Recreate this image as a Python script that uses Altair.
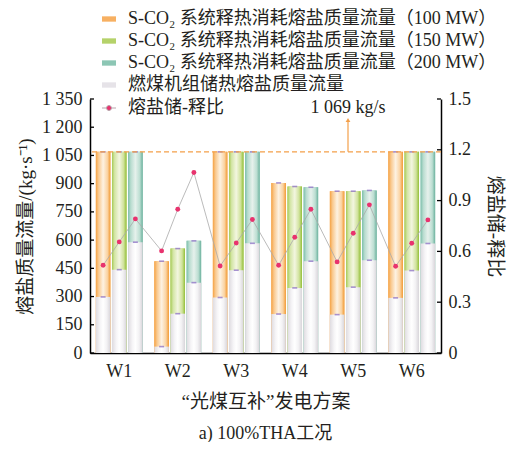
import altair as alt
import pandas as pd

FONT = "'Liberation Serif', 'Noto Sans CJK SC', serif"
TXT = "#231f20"

schemes = ["W1", "W2", "W3", "W4", "W5", "W6"]
caps = ["100 MW", "150 MW", "200 MW"]

# total molten-salt flow consumed by S-CO2 system (kg/s)
total_100 = [1069, 488, 1069, 904, 860, 1069]
total_150 = [1069, 555, 1069, 885, 860, 1069]
total_200 = [1069, 596, 1069, 881, 864, 1069]
# coal unit heat-storage molten-salt flow (kg/s)
coal_100 = [298, 34, 295, 207, 204, 293]
coal_150 = [443, 209, 440, 346, 350, 438]
coal_200 = [589, 374, 583, 488, 493, 582]
# storage / release ratio
ratio_100 = [0.518, 0.603, 0.514, 0.518, 0.538, 0.512]
ratio_150 = [0.656, 0.849, 0.650, 0.684, 0.707, 0.648]
ratio_200 = [0.792, 1.066, 0.788, 0.849, 0.875, 0.786]

left_ticks = [0, 150, 300, 450, 600, 750, 900, 1050, 1200, 1350]
right_ticks = [0, 0.3, 0.6, 0.9, 1.2, 1.5]
max_flow = 1069

L100 = "S-CO₂ 系统释热消耗熔盐质量流量（100 MW）"
L150 = "S-CO₂ 系统释热消耗熔盐质量流量（150 MW）"
L200 = "S-CO₂ 系统释热消耗熔盐质量流量（200 MW）"
LCOAL = "燃煤机组储热熔盐质量流量"
LRATIO = "熔盐储-释比"
series_labels = [L100, L150, L200, LCOAL]
series_colors = ["#f7b062", "#b5d26a", "#8cc6b4", "#e6e3e8"]

totals = [total_100, total_150, total_200]
coals = [coal_100, coal_150, coal_200]
ratios = [ratio_100, ratio_150, ratio_200]

rows = []
idx = 0
for i, w in enumerate(schemes):
    for j, c in enumerate(caps):
        rows.append({"W": w, "cap": c, "total": totals[j][i], "coal": coals[j][i],
                     "ratio": ratios[j][i], "idx": idx, "lab": LRATIO})
        idx += 1
df = pd.DataFrame(rows)

leg_rows = []
for j, c in enumerate(caps):
    for i, w in enumerate(schemes):
        leg_rows.append({"W": w, "cap": c, "series": series_labels[j], "value": totals[j][i]})
for j, c in enumerate(caps):
    for i, w in enumerate(schemes):
        leg_rows.append({"W": w, "cap": c, "series": LCOAL, "value": coals[j][i]})
leg_df = pd.DataFrame(leg_rows)

X = alt.X("W:N", scale=alt.Scale(domain=schemes, paddingInner=0.2, paddingOuter=0.1),
          axis=alt.Axis(title="“光煤互补”发电方案", labelAngle=0, ticks=False, labelPadding=9,
                        titlePadding=12, domainColor="black", domainWidth=1.5))
XO = alt.XOffset("cap:N", scale=alt.Scale(domain=caps, paddingInner=0.1, paddingOuter=0))
ysc = alt.Scale(domain=[0, 1350], nice=False, zero=True)
rsc = alt.Scale(domain=[0, 1.5], nice=False, zero=True)

left_axis = alt.Axis(title="熔盐质量流量/(kg·s⁻¹)", values=left_ticks, grid=False, ticks=False,
                     labelPadding=8, titlePadding=6, domainColor="black", domainWidth=1.5,
                     labelExpr="replace(format(datum.value, ','), ',', ' ')")
right_axis = alt.Axis(title=LRATIO, orient="right", values=right_ticks, grid=False, ticks=False,
                      labelPadding=7, titlePadding=14, domainColor="black", domainWidth=1.5,
                      labelExpr="datum.value == 0 ? '0' : format(datum.value, '.1f')")


def LY(field):
    return alt.Y(field, scale=ysc, axis=left_axis)


def RY(field):
    return alt.Y(field, scale=rsc, axis=right_axis)


def grad(stops):
    return alt.Gradient(gradient="linear", x1=0, x2=1, y1=0, y2=0,
                        stops=[alt.GradientStop(offset=o, color=c) for o, c in stops])


g_orange = grad([(0, "#f5a243"), (0.18, "#f9c88d"), (0.5, "#fdf2e2"), (0.8, "#fad3a2"), (1, "#f29a33")])
g_green = grad([(0, "#a6ca55"), (0.18, "#d3e5a5"), (0.5, "#f3f6e0"), (0.8, "#d0e29c"), (1, "#93bf38")])
g_teal = grad([(0, "#7dbfab"), (0.18, "#b8dccf"), (0.5, "#e6f1ec"), (0.8, "#bcded2"), (1, "#6cb29e")])
g_white = grad([(0, "#dedbe0"), (0.3, "#f6f5f7"), (0.5, "#ffffff"), (0.75, "#f3f2f4"), (1, "#d8d5da")])

legend_bars = alt.Chart(leg_df).mark_bar().encode(
    x=X, xOffset=XO,
    y=alt.Y("value:Q", scale=ysc, axis=left_axis, stack=None),
    color=alt.Color("series:N", scale=alt.Scale(domain=series_labels, range=series_colors),
                    legend=alt.Legend(title=None, orient="none", legendX=10, legendY=-89,
                                      symbolType="M-1,-0.38H1V0.38H-1Z", symbolSize=196,
                                      symbolStrokeWidth=0, labelFontSize=18, labelOffset=10,
                                      rowPadding=4, labelLimit=700, labelFont=FONT,
                                      labelColor=TXT, symbolOpacity=1)),
)

grad_layers = []
for c, g in zip(caps, [g_orange, g_green, g_teal]):
    grad_layers.append(
        alt.Chart(df).transform_filter(alt.datum.cap == c).mark_bar(color=g).encode(
            x=X, xOffset=XO, y=LY("total:Q"))
    )
coal_layer = alt.Chart(df).mark_bar(color=g_white).encode(
    x=X, xOffset=XO, y=LY("coal:Q"))

caps_layer = alt.Chart(df).transform_fold(["total", "coal"], as_=["k", "v"]).mark_tick(
    color="#8466c2", size=5, thickness=1.6).encode(
    x=X, xOffset=XO, y=LY("v:Q"))

dash_df = pd.DataFrame({"y": [max_flow]})
dash = alt.Chart(dash_df).mark_rule(color="#f4a04a", strokeDash=[5, 3], strokeWidth=1.2).encode(
    y=LY("y:Q"))

ann_df = pd.DataFrame({"y": [max_flow], "y2": [1238], "ty": [1301], "t": ["1 069 kg/s"]})
arrow = alt.Chart(ann_df).mark_rule(color="#f4a04a", strokeWidth=1.2).encode(
    x=alt.value(258), y=LY("y:Q"), y2="y2:Q")
head = alt.Chart(ann_df).mark_point(shape="triangle-up", filled=True, size=22, color="#f4a04a",
                                    opacity=1).encode(
    x=alt.value(258), y=LY("y2:Q"))
ann_text = alt.Chart(ann_df).mark_text(font=FONT, fontSize=18, color=TXT, baseline="middle").encode(
    x=alt.value(258), y=LY("ty:Q"), text="t:N")

lt_df = pd.DataFrame({"v": left_ticks})
left_tk = alt.Chart(lt_df).mark_rule(color="black", strokeWidth=1.3).encode(
    x=alt.value(0), x2=alt.value(4), y=LY("v:Q"))

left_group = alt.layer(legend_bars, *grad_layers, coal_layer, caps_layer, dash, arrow, head,
                       ann_text, left_tk)

line = alt.Chart(df).mark_line(color="#a9a9a9", strokeWidth=0.8).encode(
    x=X, xOffset=XO, y=RY("ratio:Q"), order="idx:Q")
pts = alt.Chart(df).mark_circle(size=24, opacity=1).encode(
    x=X, xOffset=XO, y=RY("ratio:Q"),
    color=alt.Color("lab:N", scale=alt.Scale(domain=[LRATIO], range=["#e8336e"]),
                    legend=alt.Legend(title=None, orient="none", legendX=10, legendY=0,
                                      symbolType="M-1,0H-0.4M0.4,0H1M0.36,0A0.36,0.36,0,1,1,-0.36,0A0.36,0.36,0,1,1,0.36,0",
                                      symbolSize=196, symbolStrokeColor="#b9a6ad",
                                      symbolStrokeWidth=1, labelFontSize=18, labelOffset=10,
                                      labelFont=FONT, labelColor=TXT, symbolOpacity=1)))
rt_df = pd.DataFrame({"v": right_ticks})
right_tk = alt.Chart(rt_df).mark_rule(color="black", strokeWidth=1.3).encode(
    x=alt.value(347), x2=alt.value(351), y=RY("v:Q"))

right_group = alt.layer(line, pts, right_tk)

chart = alt.layer(left_group, right_group).resolve_scale(
    y="independent", color="independent"
).properties(
    width=351, height=254,
    autosize=alt.AutoSizeParams(type="none"),
    padding={"left": 82, "top": 91, "right": 75, "bottom": 89},
    title=alt.TitleParams("a) 100%THA工况", orient="bottom", anchor="middle", font=FONT,
                          fontSize=18, fontWeight="normal", color=TXT, offset=14),
).configure_view(stroke=None).configure_axis(
    labelFont=FONT, labelFontSize=18, labelColor=TXT,
    titleFont=FONT, titleFontSize=19, titleFontWeight="normal", titleColor=TXT,
)

chart.save("out.html", embed_options={"renderer": "svg", "actions": False})
